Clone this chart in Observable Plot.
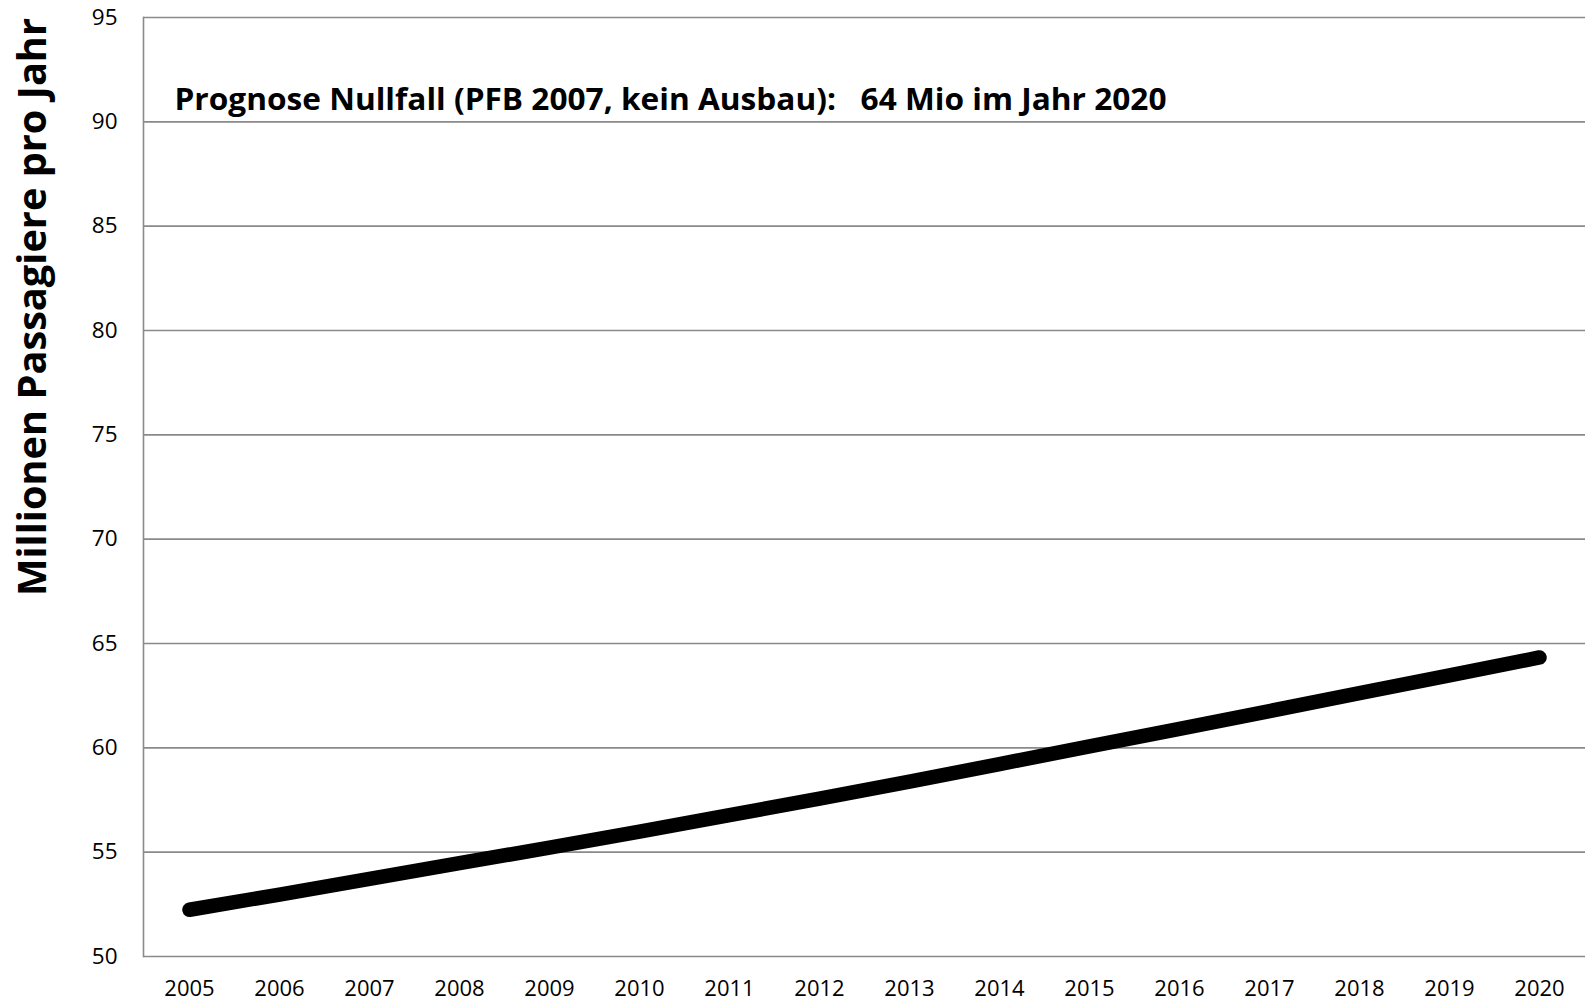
<!DOCTYPE html>
<html>
<head>
<meta charset="utf-8">
<script src="https://cdn.jsdelivr.net/npm/d3@7"></script>
<script src="https://cdn.jsdelivr.net/npm/@observablehq/plot@0.6"></script>
<style>
  html, body { margin: 0; padding: 0; background: white; overflow: hidden; }
  #chart svg { display: block; }
</style>
</head>
<body>
<div id="chart"></div>
<script>
const years = ["2005","2006","2007","2008","2009","2010","2011","2012","2013","2014","2015","2016","2017","2018","2019","2020"];
const passengers = [52.24, 52.97, 53.72, 54.47, 55.22, 55.98, 56.77, 57.57, 58.38, 59.22, 60.07, 60.91, 61.76, 62.62, 63.47, 64.33];
const yTicks = [50, 55, 60, 65, 70, 75, 80, 85, 90, 95];
const titleText = ["Prognose Nullfall (PFB 2007, kein Ausbau):   64 Mio im Jahr 2020"];
const yAxisTitle = ["Millionen Passagiere pro Jahr"];

const data = years.map((y, i) => ({year: y, value: passengers[i]}));
const gridColor = "#8a8a8a";

const chart = Plot.plot({
  width: 1589,
  height: 1002,
  marginLeft: 143,
  marginRight: 4,
  marginTop: 17,
  marginBottom: 46,
  style: {fontFamily: "'Open Sans', sans-serif", background: "white", color: "black", overflow: "visible"},
  x: {type: "point", domain: years, padding: 0.5, label: null},
  y: {domain: [50, 95], label: null},
  marks: [
    Plot.gridY(yTicks, {stroke: gridColor, strokeOpacity: 1, strokeWidth: 1.6}),
    Plot.frame({anchor: "left", stroke: gridColor, strokeWidth: 1.6}),
    Plot.axisY(yTicks, {tickSize: 0, tickPadding: 26, fontSize: 22.5, fill: "black", label: null}),
    Plot.axisX({tickSize: 0, tickPadding: 24, fontSize: 22, fill: "black", label: null}),
    Plot.line(data, {x: "year", y: "value", stroke: "black", strokeWidth: 14.5, strokeLinecap: "round", strokeLinejoin: "round"}),
    Plot.text(titleText, {frameAnchor: "top-left", dx: 31, dy: 83, textAnchor: "start", lineAnchor: "middle", fontSize: 29.5, fontWeight: "bold", fill: "black"}),
    Plot.text(yAxisTitle, {frameAnchor: "left", rotate: -90, dx: -110, dy: -180, textAnchor: "middle", lineAnchor: "middle", fontSize: 40, fontWeight: "bold", fill: "black"})
  ]
});

document.getElementById("chart").appendChild(chart);

d3.select(chart).selectAll("text").each(function() {
  const t = this.textContent;
  if (t === titleText[0]) {
    d3.select(this).attr("textLength", 992).attr("lengthAdjust", "spacingAndGlyphs").style("white-space", "pre");
  } else if (t === yAxisTitle[0]) {
    d3.select(this).attr("textLength", 578).attr("lengthAdjust", "spacingAndGlyphs");
  }
});
</script>
</body>
</html>
